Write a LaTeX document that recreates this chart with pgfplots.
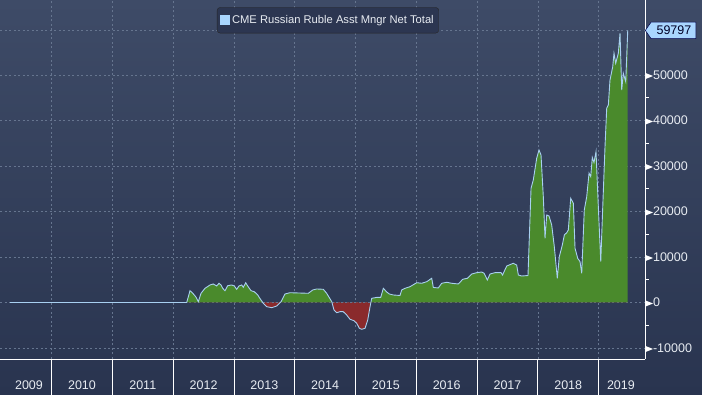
\documentclass[border=0pt]{standalone}
\usepackage{pgfplots}
\pgfplotsset{compat=1.18}
\usepackage{pgfplotstable}
\usetikzlibrary{shapes.symbols}
\usepackage{fontspec}
\setmainfont{Liberation Sans}
\definecolor{bgtop}{HTML}{3E4B67}
\definecolor{bgbot}{HTML}{29344F}
\definecolor{grn}{HTML}{4A8A2C}
\definecolor{redf}{HTML}{8A2A2C}
\definecolor{ln}{HTML}{A8D0F0}
\definecolor{gridc}{HTML}{66758F}
\definecolor{tagc}{HTML}{A9D6FF}
\definecolor{txt}{HTML}{E8ECF2}
\definecolor{legbg}{HTML}{2C3651}
\pgfplotstableread{
x y
2009.315 0
2012.223 0
2012.277 2590
2012.315 2150
2012.371 1270
2012.414 180
2012.458 2020
2012.524 3120
2012.606 3850
2012.660 4070
2012.716 3630
2012.754 4220
2012.787 3850
2012.815 3120
2012.853 2590
2012.897 3690
2012.963 3850
2013.006 3630
2013.045 2900
2013.083 3630
2013.128 3850
2013.154 3340
2013.194 4350
2013.226 3630
2013.281 2590
2013.335 2370
2013.391 1650
2013.445 550
2013.474 0
2013.483 -180
2013.539 -920
2013.621 -1140
2013.704 -770
2013.762 0
2013.775 180
2013.840 1870
2013.922 2150
2014.224 2020
2014.296 2750
2014.362 2970
2014.470 2900
2014.526 2020
2014.609 180
2014.613 0
2014.646 -1650
2014.691 -2240
2014.745 -2020
2014.799 -2020
2014.855 -2750
2014.910 -3690
2014.975 -4000
2015.020 -4570
2015.063 -5670
2015.102 -5890
2015.157 -5670
2015.201 -3850
2015.239 -920
2015.253 0
2015.267 920
2015.359 1140
2015.415 1140
2015.458 3120
2015.513 2310
2015.556 1870
2015.622 1650
2015.732 1540
2015.760 2750
2015.815 3120
2015.897 3470
2016.007 4350
2016.089 4220
2016.171 4570
2016.254 5320
2016.280 3300
2016.362 3190
2016.418 4220
2016.501 4440
2016.583 4220
2016.692 4070
2016.764 5100
2016.840 5320
2016.912 6260
2016.994 6550
2017.077 6700
2017.115 6420
2017.169 4950
2017.213 6260
2017.295 6550
2017.394 6550
2017.419 6040
2017.488 8020
2017.596 8620
2017.652 8240
2017.679 6040
2017.735 5820
2017.838 5930
2017.888 25100
2017.925 26920
2017.981 31690
2018.019 33520
2018.052 32420
2018.090 23250
2018.118 14110
2018.146 19230
2018.184 19010
2018.228 17030
2018.271 12260
2018.320 5320
2018.353 10070
2018.403 12640
2018.436 14840
2018.475 15340
2018.501 15930
2018.541 22900
2018.584 21800
2018.612 11910
2018.656 9710
2018.694 8970
2018.722 6420
2018.764 20330
2018.804 23250
2018.842 28400
2018.870 27650
2018.896 31870
2018.924 30770
2018.957 33140
2018.995 21060
2019.035 8970
2019.068 21060
2019.105 34240
2019.133 42680
2019.160 43410
2019.187 48900
2019.232 51820
2019.253 54770
2019.281 52570
2019.324 54770
2019.352 59170
2019.380 46700
2019.406 50370
2019.446 48530
2019.479 59797
}\rubdata
\begin{document}
\begin{tikzpicture}[x=1pt,y=1pt]
\begin{axis}[
  set layers, clip=false,
  at={(0pt,36pt)}, anchor=south west,
  scale only axis, width=645pt, height=359pt,
  xmin=2009.151, xmax=2019.763, ymin=-12418, ymax=66483,
  scaled ticks=false,
  axis x line*=bottom, axis y line*=right,
  axis line style={white, line width=0.8pt, -},
  tick align=outside,
  major tick length=36pt, minor tick length=4pt,
  tick style={white, line width=0.8pt},
  major y tick style={draw=none},
  xtick={2010,2011,...,2019}, xticklabels={,,,,,,,,,},
  extra x ticks={2009.628,2010.5,2011.5,2012.5,2013.5,2014.5,2015.5,2016.5,2017.5,2018.5,2019.367},
  extra x tick labels={2009,2010,2011,2012,2013,2014,2015,2016,2017,2018,2019},
  extra x tick style={grid=none, major tick length=0pt, tick style={draw=none},
     xticklabel style={anchor=base, yshift=-31pt}},
  ytick={-10000,0,10000,20000,30000,40000,50000},
  minor y tick num=1,
  yticklabel={\tikz[baseline=-0.5ex]\fill[white] (0,2.8pt)--(7pt,0)--(0,-2.8pt)--cycle;\pgfmathprintnumber[assume math mode=true,set thousands separator={}]{\tick}},
  yticklabel style={anchor=west, inner sep=0pt, xshift=-35pt},
  ticklabel style={text=txt, font=\fontsize{12.5}{14}\selectfont},
  grid=major,
  major grid style={gridc, line width=0.6pt, dash pattern=on 2pt off 2.5pt},
  legend style={at={(0.3364,0.9797)}, anchor=north west, fill=legbg, draw=black!85, rounded corners=3pt,
     text=txt, font=\fontsize{11.2}{13}\selectfont, inner xsep=3pt, inner ysep=6pt},
  legend cell align=left,
]
\begin{pgfonlayer}{axis background}
\shade[top color=bgtop,bottom color=bgbot] (rel axis cs:0,-0.10028) rectangle (rel axis cs:1.08837,1);
\end{pgfonlayer}
\addplot[fill=grn, draw=none, forget plot] table[x=x, y expr={max(\thisrow{y},0)}] {\rubdata} \closedcycle;
\addplot[fill=redf, draw=none, forget plot] table[x=x, y expr={min(\thisrow{y},0)}] {\rubdata} \closedcycle;
\addplot[gridc, line width=0.6pt, dash pattern=on 2pt off 2.5pt, forget plot] coordinates {(2013.474,0) (2013.762,0)};
\addplot[gridc, line width=0.6pt, dash pattern=on 2pt off 2.5pt, forget plot] coordinates {(2014.613,0) (2015.253,0)};
\addplot[gridc, line width=0.6pt, dash pattern=on 2pt off 2.5pt, forget plot] coordinates {(2009.151,59797) (2019.763,59797)};
\addplot[ln, line width=0.9pt, legend image code/.code={\fill[tagc, sharp corners] (0pt,-4.5pt) rectangle (9pt,4.5pt);}] table[x=x,y=y] {\rubdata};
\addlegendentry{CME Russian Ruble Asst Mngr Net Total}
\node[shape=signal, signal to=west, signal pointer angle=110, fill=tagc, draw=black!70!blue, line width=0.5pt,
   text=black!85!blue, font=\fontsize{12.5}{14}\selectfont, inner xsep=4.5pt, inner ysep=1.5pt, minimum height=16.5pt, anchor=west]
   at (axis cs:2019.763,59797) {\hspace{1pt}59797};
\end{axis}
\pgfresetboundingbox
\path[use as bounding box] (0,0) rectangle (702,395);
\end{tikzpicture}
\end{document}
